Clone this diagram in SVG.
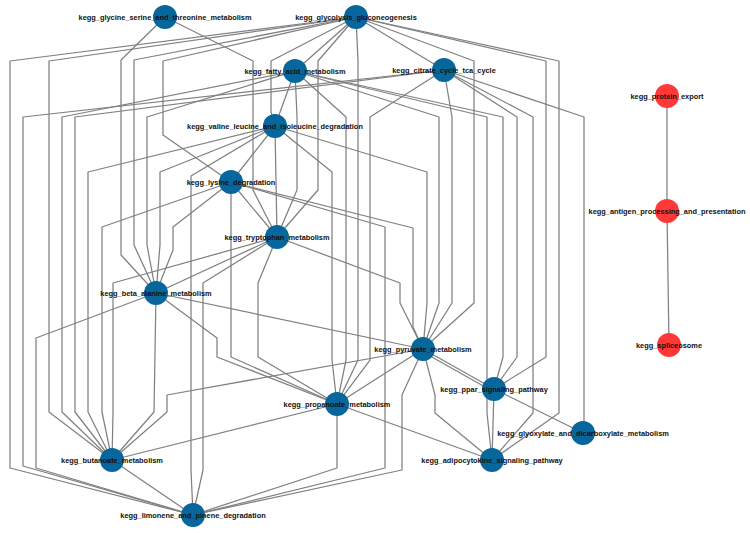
<svg xmlns="http://www.w3.org/2000/svg" width="750" height="533" viewBox="0 0 750 533">
<style>
.e{fill:none;stroke:#808080;stroke-width:1.25;stroke-linejoin:round}
.b{fill:#07669b}
.r{fill:#ff3838}
text{font-family:"Liberation Sans",Arial,sans-serif;font-weight:bold;font-size:7.4px;fill:#111;text-anchor:middle}
</style>
<rect width="750" height="533" fill="#ffffff"/>
<g id="connectors">
<polyline class="e" points="165,17 121,60 121,255 156,293"/>
<polyline class="e" points="165,17 253,61 253,190 277,237"/>
<polyline class="e" points="356,17 10,61 10,468 193,515"/>
<polyline class="e" points="356,17 49,61 49,412 112,460"/>
<polyline class="e" points="356,17 134,60 134,245 156,293"/>
<polyline class="e" points="356,17 163,61 163,135 231,182"/>
<polyline class="e" points="356,17 295,71"/>
<polyline class="e" points="356,17 444,70"/>
<polyline class="e" points="356,17 271,61 271,112 275,126"/>
<polyline class="e" points="356,17 318,61 318,190 277,237"/>
<polyline class="e" points="356,17 358,61 358,360 337,404"/>
<polyline class="e" points="356,17 474,61 474,303 423,349"/>
<polyline class="e" points="356,17 546,61 546,357 494,389"/>
<polyline class="e" points="356,17 559,61 559,413 492,460"/>
<polyline class="e" points="295,71 62,117 62,412 112,460"/>
<polyline class="e" points="295,71 147,117 147,245 156,293"/>
<polyline class="e" points="295,71 297,117 297,190 277,237"/>
<polyline class="e" points="295,71 346,117 346,360 337,404"/>
<polyline class="e" points="295,71 439,117 439,303 423,349"/>
<polyline class="e" points="295,71 487,117 487,413 492,460"/>
<polyline class="e" points="295,71 503,117 503,357 494,389"/>
<polyline class="e" points="295,71 275,126"/>
<polyline class="e" points="444,70 23,117 23,466 193,515"/>
<polyline class="e" points="444,70 75,117 75,412 112,460"/>
<polyline class="e" points="444,70 370,117 370,360 337,404"/>
<polyline class="e" points="444,70 452,117 452,303 423,349"/>
<polyline class="e" points="444,70 517,117 517,357 494,389"/>
<polyline class="e" points="444,70 533,117 533,413 492,460"/>
<polyline class="e" points="444,70 584,117 584,433"/>
<polyline class="e" points="275,126 88,172 88,412 112,460"/>
<polyline class="e" points="275,126 332,172 332,360 337,404"/>
<polyline class="e" points="275,126 427,172 427,303 423,349"/>
<polyline class="e" points="275,126 231,182"/>
<polyline class="e" points="275,126 277,237"/>
<polyline class="e" points="275,126 160,172 160,245 156,293"/>
<polyline class="e" points="275,126 191,176 191,470 193,515"/>
<polyline class="e" points="231,182 102,227 102,412 112,460"/>
<polyline class="e" points="231,182 173,227 173,250 156,293"/>
<polyline class="e" points="231,182 277,237"/>
<polyline class="e" points="231,182 231,357 337,404"/>
<polyline class="e" points="231,182 385,227 385,468 193,515"/>
<polyline class="e" points="231,182 413,228 413,327 423,349"/>
<polyline class="e" points="277,237 113,283 113,412 112,460"/>
<polyline class="e" points="277,237 156,293"/>
<polyline class="e" points="277,237 203,283 203,470 193,515"/>
<polyline class="e" points="277,237 258,283 258,357 337,404"/>
<polyline class="e" points="277,237 400,283 400,303 423,349"/>
<polyline class="e" points="156,293 36,338 36,468 193,515"/>
<polyline class="e" points="156,293 154,412 112,460"/>
<polyline class="e" points="156,293 217,338 217,357 337,404"/>
<polyline class="e" points="156,293 423,349"/>
<polyline class="e" points="423,349 494,389"/>
<polyline class="e" points="423,352 494,392"/>
<polyline class="e" points="423,349 337,404"/>
<polyline class="e" points="423,349 167,395 167,412 112,460"/>
<polyline class="e" points="423,349 402,395 402,470 193,515"/>
<polyline class="e" points="423,349 435,395 435,413 492,460"/>
<polyline class="e" points="337,404 112,460"/>
<polyline class="e" points="337,404 337,468 193,515"/>
<polyline class="e" points="337,404 492,460"/>
<polyline class="e" points="494,389 492,460"/>
<polyline class="e" points="494,389 583,433"/>
<polyline class="e" points="112,460 193,515"/>
<polyline class="e" points="667,96 667,211"/>
<polyline class="e" points="667,211 669,345"/>
</g>
<g id="n_glycine"><circle class="b" cx="165" cy="17" r="12"/><text x="165" y="19.6">kegg_glycine_serine_and_threonine_metabolism</text></g>
<g id="n_glycolysis"><circle class="b" cx="356" cy="17" r="12"/><text x="356" y="19.6">kegg_glycolysis_gluconeogenesis</text></g>
<g id="n_fatty"><circle class="b" cx="295" cy="71" r="12"/><text x="295" y="73.6">kegg_fatty_acid_metabolism</text></g>
<g id="n_citrate"><circle class="b" cx="444" cy="70" r="12"/><text x="444" y="72.6">kegg_citrate_cycle_tca_cycle</text></g>
<g id="n_valine"><circle class="b" cx="275" cy="126" r="12"/><text x="275" y="128.6">kegg_valine_leucine_and_isoleucine_degradation</text></g>
<g id="n_lysine"><circle class="b" cx="231" cy="182" r="12"/><text x="231" y="184.6">kegg_lysine_degradation</text></g>
<g id="n_tryptophan"><circle class="b" cx="277" cy="237" r="12"/><text x="277" y="239.6">kegg_tryptophan_metabolism</text></g>
<g id="n_beta"><circle class="b" cx="156" cy="293" r="12"/><text x="156" y="295.6">kegg_beta_alanine_metabolism</text></g>
<g id="n_pyruvate"><circle class="b" cx="423" cy="349" r="12"/><text x="423" y="351.6">kegg_pyruvate_metabolism</text></g>
<g id="n_ppar"><circle class="b" cx="494" cy="389" r="12"/><text x="494" y="391.6">kegg_ppar_signaling_pathway</text></g>
<g id="n_propanoate"><circle class="b" cx="337" cy="404" r="12"/><text x="337" y="406.6">kegg_propanoate_metabolism</text></g>
<g id="n_glyoxylate"><circle class="b" cx="583" cy="433" r="12"/><text x="583" y="435.6">kegg_glyoxylate_and_dicarboxylate_metabolism</text></g>
<g id="n_adipocytokine"><circle class="b" cx="492" cy="460" r="12"/><text x="492" y="462.6">kegg_adipocytokine_signaling_pathway</text></g>
<g id="n_butanoate"><circle class="b" cx="112" cy="460" r="12"/><text x="112" y="462.6">kegg_butanoate_metabolism</text></g>
<g id="n_limonene"><circle class="b" cx="193" cy="515" r="12"/><text x="193" y="517.6">kegg_limonene_and_pinene_degradation</text></g>
<g id="n_protein_export"><circle class="r" cx="667" cy="96" r="12"/><text x="667" y="98.6">kegg_protein_export</text></g>
<g id="n_antigen"><circle class="r" cx="667" cy="211" r="12"/><text x="667" y="213.6">kegg_antigen_processing_and_presentation</text></g>
<g id="n_spliceosome"><circle class="r" cx="669" cy="345" r="12"/><text x="669" y="347.6">kegg_spliceosome</text></g>
</svg>
